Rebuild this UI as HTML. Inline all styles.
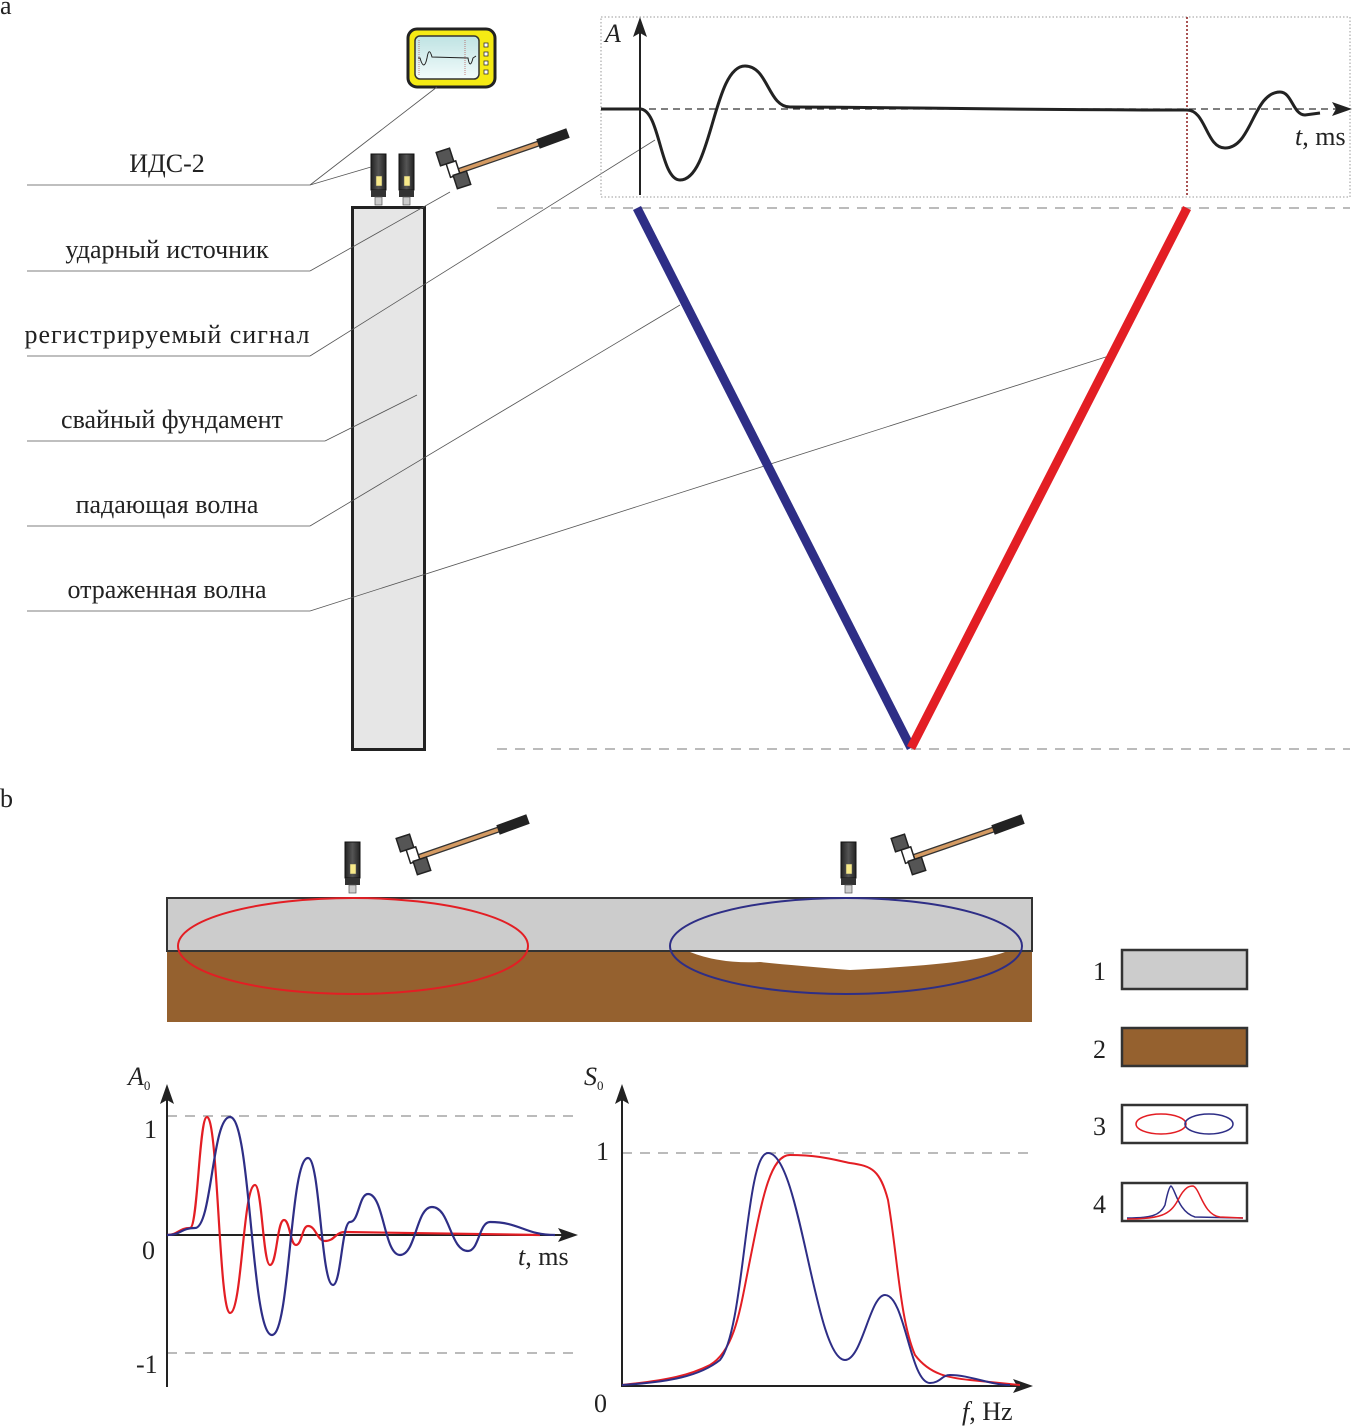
<!DOCTYPE html>
<html><head><meta charset="utf-8"><style>
html,body{margin:0;padding:0;background:#fff}
svg{display:block}
text{font-family:"Liberation Serif",serif;fill:#222}
</style></head><body>
<svg width="1353" height="1426" viewBox="0 0 1353 1426" xmlns="http://www.w3.org/2000/svg">
<defs>
<linearGradient id="sg" x1="0" x2="1"><stop offset="0" stop-color="#222"/><stop offset="0.5" stop-color="#555"/><stop offset="1" stop-color="#222"/></linearGradient>
<linearGradient id="scr" x1="0" y1="0" x2="0" y2="1"><stop offset="0" stop-color="#bfe3e3"/><stop offset="1" stop-color="#f2fbfb"/></linearGradient>
<g id="sensor">
<rect x="0" y="0" width="15" height="36" fill="url(#sg)" stroke="#111" stroke-width="1"/>
<rect x="5" y="22" width="6" height="10" fill="#f7e98a" stroke="#555" stroke-width="0.5"/>
<rect x="0" y="36" width="15" height="7" fill="#333"/>
<rect x="4" y="43" width="7" height="8" fill="#ccc" stroke="#555" stroke-width="0.7"/>
</g>
<g id="hammer">
<line x1="18" y1="22" x2="105" y2="-8" stroke="#333" stroke-width="6"/>
<line x1="18" y1="22" x2="105" y2="-8" stroke="#d49a62" stroke-width="3.5"/>
<line x1="100" y1="-6" x2="130" y2="-17" stroke="#222" stroke-width="10"/>
<rect x="0" y="0" width="14" height="14" fill="#555" stroke="#222" stroke-width="1.5" transform="rotate(-18 7 7)"/>
<rect x="6" y="14" width="10" height="14" fill="#fff" stroke="#222" stroke-width="1.5" transform="rotate(-18 7 7)"/>
<rect x="9" y="27" width="14" height="14" fill="#555" stroke="#222" stroke-width="1.5" transform="rotate(-18 7 7)"/>
</g>
</defs>

<text x="0" y="14" font-size="26">a</text>
<text x="0" y="807" font-size="26">b</text>

<!-- device -->
<rect x="408" y="29" width="87" height="58" rx="9" fill="#f5ea14" stroke="#222" stroke-width="3"/>
<rect x="415" y="36" width="64" height="43" rx="5" fill="url(#scr)" stroke="#333" stroke-width="1.5"/>
<path d="M418 58 L420 58 Q424 72 427 58 Q429 46 432 57 L468 58 Q470 70 473 58 L476 56" stroke="#222" fill="none" stroke-width="1"/>
<line x1="419" y1="40" x2="419" y2="75" stroke="#a33" stroke-width="0.6" stroke-dasharray="1 1"/>
<line x1="465" y1="40" x2="465" y2="75" stroke="#a33" stroke-width="0.6" stroke-dasharray="1 1"/>
<g fill="#fff" stroke="#333" stroke-width="0.8"><rect x="484" y="43" width="4" height="4"/><rect x="484" y="52" width="4" height="4"/><rect x="484" y="61" width="4" height="4"/><rect x="484" y="70" width="4" height="4"/></g>

<!-- pile -->
<rect x="352.5" y="207.5" width="72" height="542" fill="#e6e6e6" stroke="#222" stroke-width="3"/>
<use href="#sensor" x="371" y="154"/>
<use href="#sensor" x="399" y="154"/>
<use href="#hammer" x="438" y="150"/>

<!-- labels -->
<g stroke="#555" stroke-width="0.8" fill="none">
<line x1="27" y1="185" x2="310" y2="185"/><line x1="310" y1="185" x2="437" y2="87"/><line x1="310" y1="185" x2="371" y2="167"/>
<line x1="27" y1="271" x2="310" y2="271"/><line x1="310" y1="271" x2="450" y2="192"/>
<line x1="27" y1="356" x2="310" y2="356"/><line x1="310" y1="356" x2="655" y2="140"/>
<line x1="27" y1="441" x2="325" y2="441"/><line x1="325" y1="441" x2="417" y2="395"/>
<line x1="27" y1="526" x2="310" y2="526"/><line x1="310" y1="526" x2="680" y2="305"/>
<line x1="27" y1="611" x2="310" y2="611"/><line x1="310" y1="611" x2="1112" y2="355"/>
</g>
<g font-size="26" text-anchor="middle">
<text x="167" y="172">ИДС-2</text>
<text x="167" y="258">ударный источник</text>
<text x="167" y="343" textLength="285">регистрируемый сигнал</text>
<text x="172" y="428">свайный фундамент</text>
<text x="167" y="513">падающая волна</text>
<text x="167" y="598">отраженная волна</text>
</g>

<!-- graph box -->
<rect x="601" y="17" width="749" height="180" fill="none" stroke="#999" stroke-width="1" stroke-dasharray="1.5 2"/>
<line x1="601" y1="109" x2="1340" y2="109" stroke="#333" stroke-width="1.2" stroke-dasharray="7 5"/>
<path d="M1352 109 L1332 102 L1336 109 L1332 116 Z" fill="#222"/>
<line x1="640" y1="195" x2="640" y2="28" stroke="#222" stroke-width="2"/>
<path d="M640 17 L633 37 L640 33 L647 37 Z" fill="#222"/>
<text x="605" y="42" font-size="26" font-style="italic">A</text>
<text x="1295" y="145" font-size="26"><tspan font-style="italic">t</tspan>, ms</text>
<line x1="1187" y1="17" x2="1187" y2="197" stroke="#8b1a1a" stroke-width="1.5" stroke-dasharray="2 2"/>
<path d="M601 109 L640 109 C660 109 660 180 680 180 C712 180 713 66 745 66 C768 66 768 107 790 107 C990 108 990 110 1187 110 C1206 110 1206 148 1225 148 C1252 148 1253 92 1280 92 C1292 92 1293 115 1305 115 L1320 113" fill="none" stroke="#222" stroke-width="3"/>

<line x1="497" y1="208" x2="1350" y2="208" stroke="#bbb" stroke-width="2" stroke-dasharray="10 8"/>
<line x1="497" y1="749" x2="1350" y2="749" stroke="#bbb" stroke-width="2" stroke-dasharray="10 8"/>
<line x1="637" y1="208" x2="911" y2="748" stroke="#2e2e86" stroke-width="9"/>
<line x1="1187" y1="208" x2="911" y2="748" stroke="#e31e24" stroke-width="9"/>

<!-- panel b -->
<rect x="167" y="951" width="865" height="71" fill="#95612f"/>
<path d="M690 952 Q720 964 760 962 Q800 966 850 970 Q930 966 970 960 Q995 956 1005 952 Z" fill="#fff"/>
<rect x="167" y="898" width="865" height="53" fill="#cccccc" stroke="#333" stroke-width="2"/>
<ellipse cx="353" cy="946" rx="175" ry="48" fill="none" stroke="#e31e24" stroke-width="2"/>
<ellipse cx="846" cy="946" rx="176" ry="48" fill="none" stroke="#2e2e86" stroke-width="2"/>
<use href="#sensor" x="345" y="842"/>
<use href="#sensor" x="841" y="842"/>
<use href="#hammer" x="398" y="836"/>
<use href="#hammer" x="893" y="836"/>

<!-- legend -->
<g font-size="26">
<text x="1093" y="980">1</text><text x="1093" y="1058">2</text><text x="1093" y="1135">3</text><text x="1093" y="1213">4</text>
</g>
<rect x="1122" y="950" width="125" height="39" fill="#cccccc" stroke="#333" stroke-width="2.5"/>
<rect x="1122" y="1028" width="125" height="38" fill="#95612f" stroke="#333" stroke-width="2.5"/>
<rect x="1122" y="1105" width="125" height="38" fill="#fff" stroke="#333" stroke-width="2.5"/>
<ellipse cx="1161" cy="1124" rx="25" ry="10" fill="none" stroke="#e31e24" stroke-width="1.5"/>
<ellipse cx="1209" cy="1124" rx="24" ry="10" fill="none" stroke="#2e2e86" stroke-width="1.5"/>
<rect x="1122" y="1183" width="125" height="38" fill="#fff" stroke="#333" stroke-width="2.5"/>
<path d="M1127 1218 C1150 1218 1160 1216 1165 1205 C1168 1190 1170 1186 1171 1186 C1175 1188 1178 1212 1195 1217 L1243 1218" fill="none" stroke="#2e2e86" stroke-width="1.5"/>
<path d="M1127 1219 C1160 1219 1170 1215 1178 1200 C1185 1186 1190 1186 1193 1186 C1200 1188 1203 1215 1220 1217 L1243 1218" fill="none" stroke="#e31e24" stroke-width="1.5"/>

<!-- left chart -->
<line x1="167" y1="1116" x2="578" y2="1116" stroke="#bbb" stroke-width="2" stroke-dasharray="10 8"/>
<line x1="167" y1="1353" x2="578" y2="1353" stroke="#bbb" stroke-width="2" stroke-dasharray="10 8"/>
<line x1="167" y1="1387" x2="167" y2="1098" stroke="#222" stroke-width="2"/>
<path d="M167 1084 L160 1104 L167 1100 L174 1104 Z" fill="#222"/>
<line x1="167" y1="1235" x2="565" y2="1235" stroke="#222" stroke-width="2"/>
<path d="M578 1235 L558 1228 L562 1235 L558 1242 Z" fill="#222"/>
<g font-size="26">
<text x="128" y="1085" font-style="italic">A<tspan font-size="13" dy="5" font-style="normal">0</tspan></text>
<text x="144" y="1138">1</text><text x="142" y="1259">0</text><text x="136" y="1373">-1</text>
<text x="518" y="1265"><tspan font-style="italic">t</tspan>, ms</text>
</g>
<path d="M167 1235 C178 1235 179 1228 190 1228 C198 1228 199 1117 207 1117 C218 1117 219 1313 230 1313 C242 1313 243 1185 255 1185 C262 1185 263 1265 270 1265 C277 1265 277 1220 284 1220 C290 1220 290 1245 296 1245 C302 1245 302 1226 308 1226 C316 1226 317 1241 325 1241 C335 1241 335 1232 345 1232 L540 1235" fill="none" stroke="#e31e24" stroke-width="2.2"/>
<path d="M167 1235 C181 1235 181 1228 195 1228 C212 1228 212 1117 230 1117 C251 1117 251 1335 272 1335 C290 1335 290 1158 308 1158 C320 1158 321 1285 333 1285 C341 1285 342 1222 350 1222 C359 1222 359 1194 368 1194 C384 1194 384 1255 400 1255 C416 1255 416 1207 432 1207 C450 1207 450 1251 468 1251 C479 1251 479 1222 490 1222 C520 1222 525 1235 555 1235" fill="none" stroke="#2e2e86" stroke-width="2.2"/>

<!-- right chart -->
<line x1="622" y1="1153" x2="1033" y2="1153" stroke="#bbb" stroke-width="2" stroke-dasharray="10 8"/>
<line x1="622" y1="1387" x2="622" y2="1098" stroke="#222" stroke-width="2"/>
<path d="M622 1084 L615 1104 L622 1100 L629 1104 Z" fill="#222"/>
<line x1="622" y1="1386" x2="1020" y2="1386" stroke="#222" stroke-width="2"/>
<path d="M1033 1386 L1013 1379 L1017 1386 L1013 1393 Z" fill="#222"/>
<g font-size="26">
<text x="584" y="1085" font-style="italic">S<tspan font-size="13" dy="5" font-style="normal">0</tspan></text>
<text x="596" y="1160">1</text><text x="594" y="1412">0</text>
<text x="962" y="1420"><tspan font-style="italic">f</tspan>, Hz</text>
</g>
<path d="M622 1385 C670 1380 690 1375 710 1365 C735 1350 740 1310 750 1260 C762 1200 770 1155 790 1155 C820 1155 835 1160 850 1163 C872 1166 880 1170 888 1200 C898 1260 900 1320 915 1355 C930 1375 950 1378 970 1380 L1020 1385" fill="none" stroke="#e31e24" stroke-width="2"/>
<path d="M622 1385 C670 1382 700 1376 720 1360 C745 1330 745 1153 768 1153 C800 1153 815 1360 845 1360 C862 1360 870 1295 885 1295 C905 1295 910 1383 930 1383 C940 1383 942 1375 950 1375 C970 1375 990 1385 1010 1385" fill="none" stroke="#2e2e86" stroke-width="2"/>
</svg>
</body></html>
